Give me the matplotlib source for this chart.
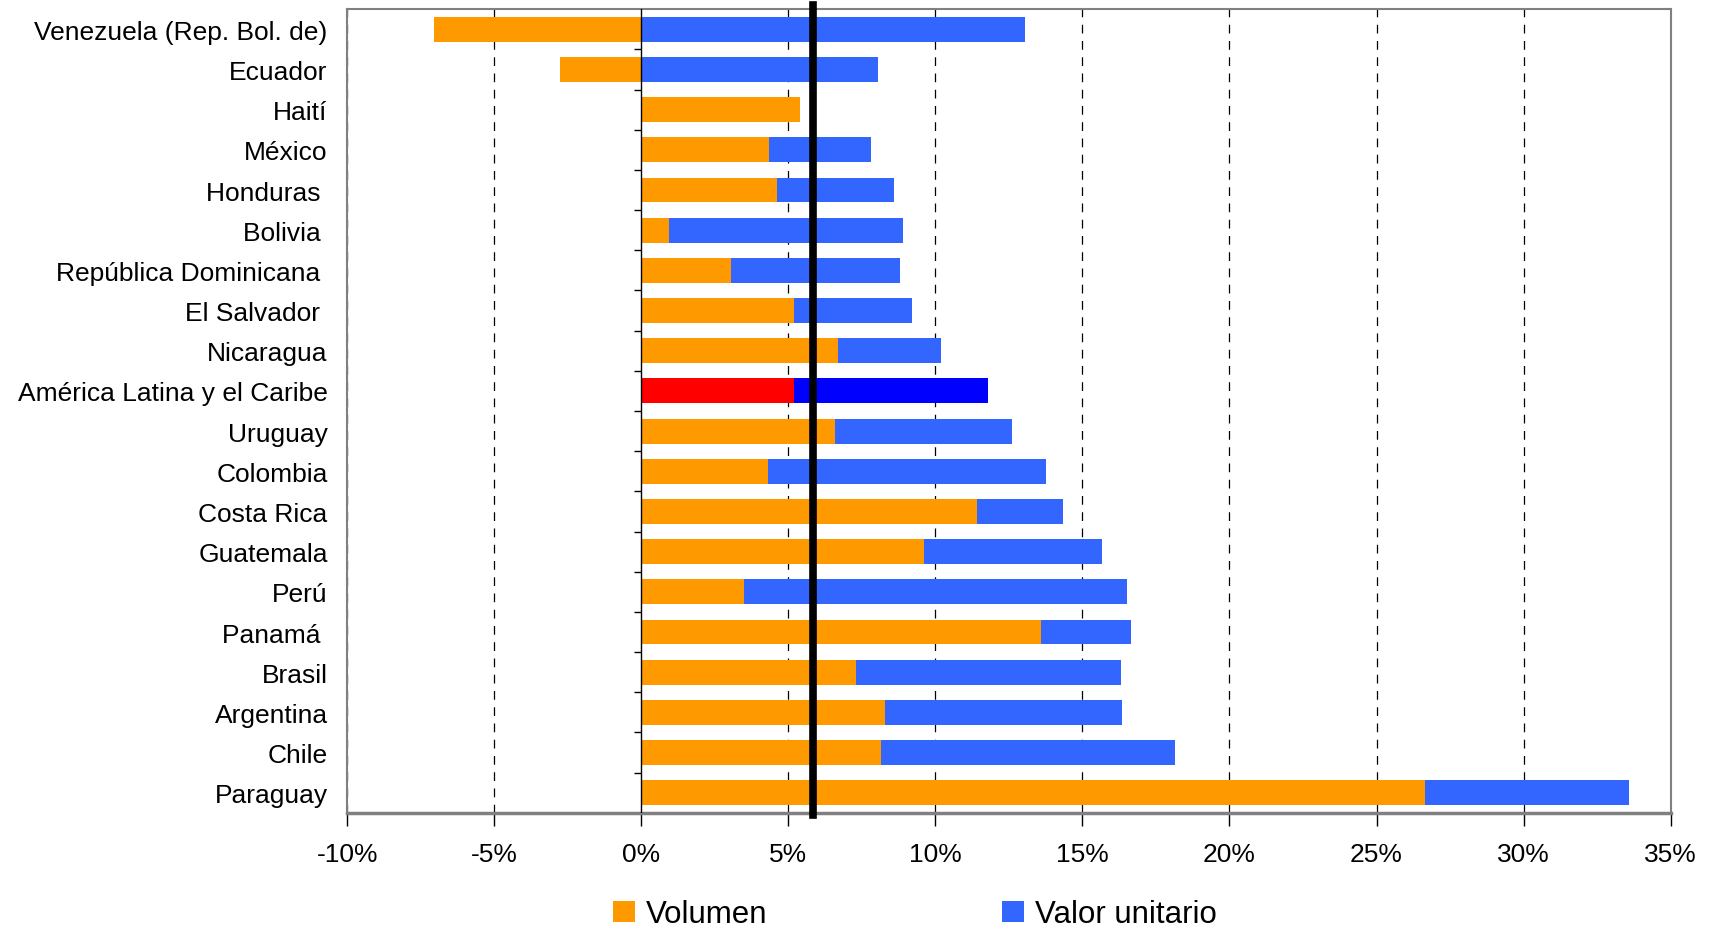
import numpy as np
import matplotlib
matplotlib.use("Agg")
import matplotlib.pyplot as plt
from matplotlib.patches import Patch
from matplotlib.ticker import FuncFormatter

plt.rcParams['font.family'] = ['Liberation Sans', 'DejaVu Sans']

paises = ["Venezuela (Rep. Bol. de)", "Ecuador", "Haití", "México", "Honduras ",
          "Bolivia ", "República Dominicana ", "El Salvador ", "Nicaragua",
          "América Latina y el Caribe", "Uruguay", "Colombia", "Costa Rica",
          "Guatemala", "Perú", "Panamá ", "Brasil", "Argentina", "Chile", "Paraguay"]
volumen = [-7.05, -2.75, 5.4, 4.35, 4.6, 0.95, 3.05, 5.2, 6.7, 5.2,
           6.6, 4.3, 11.4, 9.6, 3.5, 13.6, 7.3, 8.3, 8.15, 26.65]
valor_unitario = [13.05, 8.05, 0.0, 3.45, 4.0, 7.95, 5.75, 4.0, 3.5, 6.6,
                  6.0, 9.45, 2.95, 6.05, 13.0, 3.05, 9.0, 8.05, 10.0, 6.95]
promedio = 5.85
xticks = [-10, -5, 0, 5, 10, 15, 20, 25, 30, 35]

naranja, azul = '#FF9900', '#3366FF'
destacado = "América Latina y el Caribe"

fig = plt.figure(figsize=(17.1, 9.28), dpi=100)
ax = fig.add_axes([0.203, 0.123, 0.774, 0.866])

y = np.arange(len(paises))
col_vol = ['#FF0000' if p == destacado else naranja for p in paises]
col_val = ['#0000FF' if p == destacado else azul for p in paises]
inicio = [max(v, 0) for v in volumen]

ax.barh(y, volumen, height=0.62, color=col_vol, zorder=3)
ax.barh(y, valor_unitario, left=inicio, height=0.62, color=col_val, zorder=3)

# grid lines
for t in xticks:
    if t == 0:
        continue
    ax.axvline(t, color='black', lw=0.9, ls=(0, (7, 6)), zorder=1)
ax.axvline(0, color='black', lw=1.0, zorder=4)
# small ticks on the zero axis between categories
ax.hlines(np.arange(len(paises) - 1) + 0.5, -0.25, 0, color='black', lw=1.0, zorder=4)

ax.axvline(promedio, color='black', lw=5.5, zorder=5, ymin=-0.003, ymax=1.005, clip_on=False)

ax.set_xlim(-10, 35)
ax.set_ylim(len(paises) - 0.5, -0.5)
ax.set_xticks(xticks)
ax.xaxis.set_major_formatter(FuncFormatter(lambda v, p: f"{v:.0f}%"))
ax.set_yticks(y)
ax.set_yticklabels(paises)
ax.tick_params(axis='y', length=0, pad=14, labelsize=19)
ax.tick_params(axis='x', length=9, width=1, direction='out', pad=12, labelsize=19, color='black')

for s in ax.spines.values():
    s.set_color('#808080')
    s.set_linewidth(1.5)
ax.spines['bottom'].set_linewidth(2.5)

handles = [Patch(facecolor=naranja, label='Volumen'), Patch(facecolor=azul, label='Valor unitario')]
fig.legend(handles=handles, loc='lower center', bbox_to_anchor=(0.535, -0.033), ncol=2,
           frameon=False, fontsize=22.5, handlelength=0.7, handleheight=0.7,
           handletextpad=0.35, columnspacing=7.5)

fig.savefig('out.png', dpi=100)
